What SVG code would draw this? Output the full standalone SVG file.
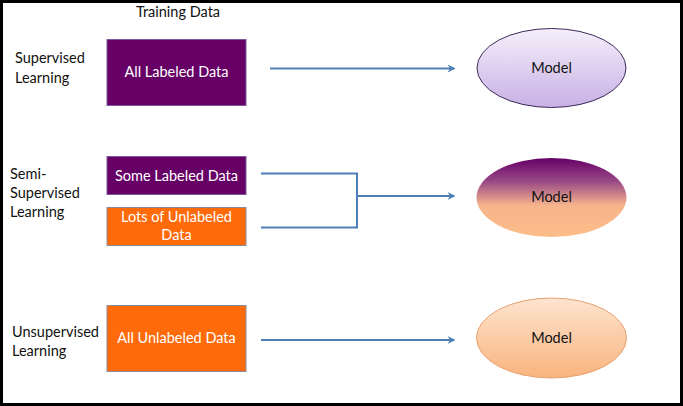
<svg xmlns="http://www.w3.org/2000/svg" width="683" height="406" viewBox="0 0 683 406">
<defs>
<style>
.lbl{font-family:Lato,"Open Sans","Liberation Sans",sans-serif;font-size:14.5px;fill:#111}
.box{font-family:Lato,"Open Sans","Liberation Sans",sans-serif;font-size:14.5px;fill:#fff;text-anchor:middle}
.mdl{font-family:Lato,"Open Sans","Liberation Sans",sans-serif;font-size:14.5px;fill:#111;text-anchor:middle}
.purple{fill:#660066;stroke:#7a5a9a;stroke-width:1}
.orange{fill:#ff6a0a;stroke:#8a8a9a;stroke-width:1}
.conn{fill:none;stroke:#4f7fb8;stroke-width:2}
</style>
<linearGradient id="gTop" x1="0" y1="0" x2="0" y2="1">
<stop offset="0" stop-color="#f5f0fb"/>
<stop offset="1" stop-color="#c8b0e4"/>
</linearGradient>
<linearGradient id="gMid" x1="0" y1="0" x2="0" y2="1">
<stop offset="0" stop-color="#660066"/>
<stop offset="0.3" stop-color="#9a4a86"/>
<stop offset="0.6" stop-color="#f6b48c"/>
<stop offset="1" stop-color="#fdbd88"/>
</linearGradient>
<linearGradient id="gBot" x1="0" y1="0" x2="0" y2="1">
<stop offset="0" stop-color="#fde4cf"/>
<stop offset="1" stop-color="#f9b47e"/>
</linearGradient>
<marker id="arr" viewBox="0 0 10 10" refX="8" refY="5" markerWidth="4" markerHeight="4" orient="auto">
<path d="M0,0 L10,5 L0,10 L3,5 Z" fill="#4f7fb8"/>
</marker>
</defs>
<rect x="0" y="0" width="683" height="406" fill="#fff"/>
<rect x="1.5" y="1.5" width="680" height="403" fill="none" stroke="#000" stroke-width="3"/>

<g id="header"><text class="lbl" x="178" y="17" text-anchor="middle">Training Data</text></g>

<g id="label-supervised"><text class="lbl" x="15" y="63">Supervised</text><text class="lbl" x="15" y="83">Learning</text></g>
<g id="label-semi"><text class="lbl" x="10" y="179">Semi-</text><text class="lbl" x="10" y="198">Supervised</text><text class="lbl" x="10" y="217">Learning</text></g>
<g id="label-unsupervised"><text class="lbl" x="12" y="337">Unsupervised</text><text class="lbl" x="12" y="356">Learning</text></g>

<g id="all-labeled"><rect class="purple" x="107" y="39.5" width="139" height="66"/><text class="box" x="176.5" y="77">All Labeled Data</text></g>
<g id="some-labeled"><rect class="purple" x="107" y="156.5" width="139" height="38"/><text class="box" x="176.5" y="181">Some Labeled Data</text></g>
<g id="lots-unlabeled"><rect class="orange" x="107" y="207.5" width="139" height="38"/><text class="box" x="176.5" y="222">Lots of Unlabeled</text><text class="box" x="176.5" y="240">Data</text></g>
<g id="all-unlabeled"><rect class="orange" x="107" y="305.5" width="139" height="66"/><text class="box" x="176.5" y="343">All Unlabeled Data</text></g>

<g id="model-supervised"><ellipse cx="551.5" cy="68" rx="74.5" ry="39.5" fill="url(#gTop)" stroke="#3d2a5a" stroke-width="1"/><text class="mdl" x="551.5" y="73">Model</text></g>
<g id="model-semi"><ellipse cx="551.5" cy="197.5" rx="75" ry="39.5" fill="url(#gMid)"/><text class="mdl" x="551.5" y="202">Model</text></g>
<g id="model-unsupervised"><ellipse cx="551.5" cy="338" rx="75" ry="40" fill="url(#gBot)" stroke="#e8a070" stroke-width="1"/><text class="mdl" x="551.5" y="343">Model</text></g>

<g id="connectors">
<line class="conn" x1="270" y1="68.5" x2="454" y2="68.5" marker-end="url(#arr)"/>
<path class="conn" d="M261,173.5 H357 V227.5 H261"/>
<line class="conn" x1="357" y1="196" x2="454" y2="196" marker-end="url(#arr)"/>
<line class="conn" x1="261" y1="340" x2="454" y2="340" marker-end="url(#arr)"/>
</g>
</svg>
